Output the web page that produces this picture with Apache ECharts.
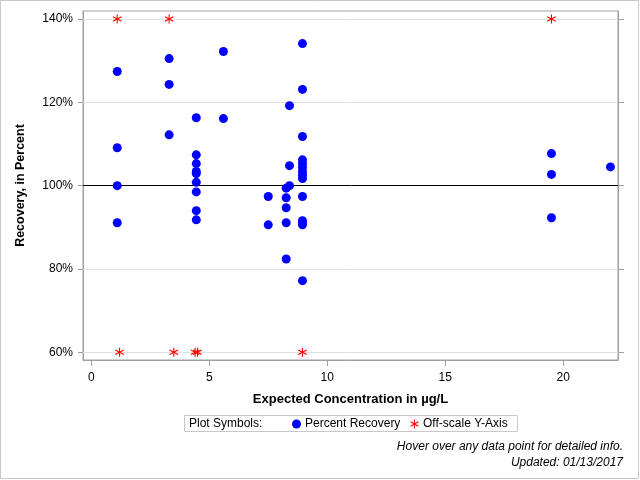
<!DOCTYPE html>
<html>
<head>
<meta charset="utf-8">
<script src="https://cdn.jsdelivr.net/npm/echarts@6/dist/echarts.min.js"></script>
<style>
  html, body { margin: 0; padding: 0; background: #fff; }
  #chart { width: 640px; height: 480px; }
</style>
</head>
<body>
<div id="chart"></div>
<script>
// 数据
var concentration = [
  1.1, 1.1, 1.1, 1.1,
  3.3, 3.3, 3.3,
  4.45, 4.45, 4.45, 4.45, 4.45, 4.45, 4.45, 4.45, 4.45,
  5.6, 5.6,
  7.5, 7.5,
  8.26, 8.26, 8.26, 8.26, 8.26,
  8.4, 8.4, 8.4,
  8.95, 8.95, 8.95, 8.95, 8.95, 8.95, 8.95, 8.95, 8.95, 8.95, 8.95, 8.95, 8.95, 8.95,
  19.5, 19.5, 19.5,
  22
];
var percentRecovery = [
  127.4, 109.1, 100.0, 91.1,
  130.5, 124.3, 112.2,
  116.3, 107.4, 105.3, 103.4, 102.9, 100.8, 98.5, 94.0, 91.8,
  132.2, 116.1,
  97.4, 90.6,
  99.4, 97.1, 94.7, 91.1, 82.4,
  119.2, 104.8, 100.0,
  134.1, 123.1, 111.8, 106.2, 105.3, 104.4, 103.4, 102.5, 101.7, 97.4, 91.6, 91.2, 90.6, 77.2,
  107.7, 102.7, 92.3,
  104.5
];
// off-scale points, drawn at the axis limits
var offHighX = [1.1, 3.3, 19.5];
var offLowX = [1.2, 3.5, 4.4, 4.5, 8.95];

var xTicks = [0, 5, 10, 15, 20];
var yTicks = [60, 80, 100, 120, 140];
var gridValues = [60, 80, 120, 140];

var FONT = "'Liberation Sans', Arial, sans-serif";
var AXIS_GRAY = '#a0a0a0';

// asterisk marker
var starPath = 'path://M4.45 0L5.55 0L5.55 10L4.45 10Z' +
  'M0.4 3.0L0.95 2.0L9.6 7.0L9.05 8.0Z' +
  'M9.05 2.0L9.6 3.0L0.95 8.0L0.4 7.0Z';

var recoveryData = concentration.map(function(x, i) {
  return [x, percentRecovery[i]];
});
var offData = offHighX.map(function(x) { return [x, 140]; })
  .concat(offLowX.map(function(x) { return [x, 60]; }));

var chart = echarts.init(document.getElementById('chart'));

chart.setOption({
  animation: false,
  textStyle: { fontFamily: FONT },
  grid: {
    left: 83, right: 22, top: 11, bottom: 120,
    show: true, borderColor: AXIS_GRAY, borderWidth: 1,
    containLabel: false
  },
  xAxis: {
    type: 'value',
    min: -0.35, max: 22.32,
    name: 'Expected Concentration in µg/L',
    nameLocation: 'middle',
    nameGap: 33,
    nameTextStyle: { fontSize: 13, fontWeight: 'bold', color: '#000', fontFamily: FONT },
    axisLine: { show: true, onZero: false, lineStyle: { color: AXIS_GRAY } },
    axisTick: { show: true, length: 6, customValues: xTicks, lineStyle: { color: AXIS_GRAY } },
    axisLabel: { customValues: xTicks, margin: 12, fontSize: 12, color: '#000', fontFamily: FONT },
    splitLine: { show: false }
  },
  yAxis: [{
    type: 'value',
    min: 58.15, max: 141.92,
    name: 'Recovery, in Percent',
    nameLocation: 'middle',
    nameGap: 56,
    nameTextStyle: { fontSize: 12.5, fontWeight: 'bold', color: '#000', fontFamily: FONT },
    axisLine: { show: true, onZero: false, lineStyle: { color: AXIS_GRAY } },
    axisTick: { show: true, length: 5, customValues: yTicks, lineStyle: { color: AXIS_GRAY } },
    axisLabel: {
      customValues: yTicks, margin: 10, fontSize: 12, color: '#000', fontFamily: FONT,
      formatter: '{value}%'
    },
    splitLine: { show: false }
  }, {
    type: 'value',
    position: 'right',
    min: 58.15, max: 141.92,
    axisLine: { show: true, onZero: false, lineStyle: { color: AXIS_GRAY } },
    axisTick: { show: true, length: 6, customValues: yTicks, lineStyle: { color: AXIS_GRAY } },
    axisLabel: { show: false },
    splitLine: { show: false }
  }],
  legend: {
    left: 287, top: 413,
    itemWidth: 9, itemHeight: 9, itemGap: 10,
    textStyle: { fontSize: 12, color: '#000', fontFamily: FONT, padding: [0, 0, 0, -1] },
    data: ['Percent Recovery', 'Off-scale Y-Axis']
  },
  graphic: [{
    type: 'rect',
    shape: { x: 0.5, y: 0.5, width: 638, height: 478 },
    style: { fill: 'none', stroke: '#c8c8c8', lineWidth: 1 },
    silent: true
  }, {
    type: 'rect',
    shape: { x: 184.5, y: 415.5, width: 333, height: 16 },
    style: { fill: 'none', stroke: '#c8c8c8', lineWidth: 1 },
    silent: true
  }, {
    type: 'text',
    x: 189, y: 424,
    style: {
      text: 'Plot Symbols:', font: '12px ' + FONT, fill: '#000',
      verticalAlign: 'middle'
    },
    silent: true
  }, {
    type: 'text',
    x: 623, y: 447,
    style: {
      text: 'Hover over any data point for detailed info.',
      font: 'italic 12px ' + FONT, fill: '#000', align: 'right', verticalAlign: 'middle'
    },
    silent: true
  }, {
    type: 'text',
    x: 623, y: 463,
    style: {
      text: 'Updated: 01/13/2017',
      font: 'italic 12px ' + FONT, fill: '#000', align: 'right', verticalAlign: 'middle'
    },
    silent: true
  }],
  series: [{
    name: 'Percent Recovery',
    type: 'scatter',
    symbol: 'circle',
    symbolSize: 9,
    itemStyle: { color: '#0000ff', opacity: 1 },
    data: recoveryData,
    z: 5,
    markLine: {
      silent: true,
      symbol: 'none',
      label: { show: false },
      data: gridValues.map(function(v) {
        return { yAxis: v, lineStyle: { color: '#e0e0e0', width: 1, type: 'solid' } };
      }).concat([{ yAxis: 100, lineStyle: { color: '#000', width: 1, type: 'solid' } }]),
      z: 1
    }
  }, {
    name: 'Off-scale Y-Axis',
    type: 'scatter',
    symbol: starPath,
    symbolSize: 9,
    itemStyle: { color: '#ff0000', opacity: 1 },
    data: offData,
    z: 6
  }]
});
</script>
</body>
</html>
